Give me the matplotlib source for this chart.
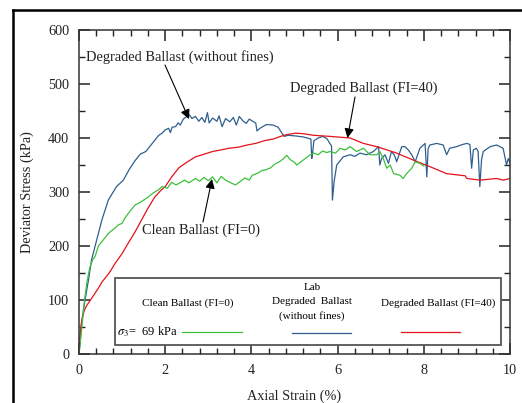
import matplotlib
matplotlib.use("Agg")
import matplotlib.pyplot as plt
from matplotlib.lines import Line2D
from matplotlib.patches import Rectangle

plt.rcParams['font.family'] = ['Liberation Serif', 'DejaVu Serif']
plt.rcParams['mathtext.fontset'] = 'stix'

# ---------------- data (10 values per row, x and y rows aligned) ----------------
blue_x = [0, 0.03, 0.06, 0.1, 0.14, 0.22, 0.29, 0.41, 0.53, 0.68,
          0.87, 1.03, 1.16, 1.3, 1.42, 1.55, 1.65, 1.75, 1.85, 1.93,
          2.0, 2.08, 2.12, 2.16, 2.24, 2.3, 2.35, 2.42, 2.5, 2.56,
          2.62, 2.7, 2.78, 2.85, 2.92, 2.98, 3.02, 3.1, 3.2, 3.25,
          3.32, 3.4, 3.5, 3.58, 3.65, 3.72, 3.8, 3.88, 3.95, 4.05,
          4.1, 4.13, 4.2, 4.35, 4.5, 4.62, 4.7, 4.76, 4.85, 5.0,
          5.2, 5.38, 5.4, 5.42, 5.45, 5.55, 5.65, 5.75, 5.82, 5.86,
          5.88, 5.92, 5.98, 6.13, 6.29, 6.4, 6.52, 6.67, 6.83, 6.95,
          6.98, 7.02, 7.1, 7.18, 7.25, 7.32, 7.37, 7.45, 7.49, 7.56,
          7.64, 7.72, 7.8, 7.91, 8.03, 8.07, 8.1, 8.14, 8.3, 8.45,
          8.53, 8.6, 8.76, 8.9, 9.0, 9.07, 9.11, 9.15, 9.22, 9.26,
          9.3, 9.34, 9.38, 9.54, 9.69, 9.84, 9.92, 9.96, 10.0]
blue_y = [0, 25, 57, 80, 100, 137, 174, 211, 248, 285,
          310, 322, 341, 358, 370, 375, 385, 395, 405, 409,
          415, 418, 410, 420, 421, 428, 424, 435, 440, 443,
          436, 440, 431, 438, 429, 447, 428, 437, 431, 441,
          421, 436, 430, 438, 424, 440, 432, 427, 435, 430,
          428, 413, 418, 425, 424, 420, 410, 403, 405, 404,
          402, 398, 362, 372, 395, 400, 403, 399, 390, 385,
          285, 320, 350, 365, 369, 366, 372, 369, 375, 384,
          350, 362, 369, 353, 375, 368, 356, 375, 384, 384,
          378, 369, 356, 381, 390, 328, 380, 387, 390, 387,
          369, 381, 384, 388, 390, 388, 344, 378, 381, 375,
          310, 360, 375, 384, 387, 381, 350, 362, 354]

green_x = [0, 0.04, 0.08, 0.12, 0.18, 0.25, 0.32, 0.37, 0.45, 0.53,
           0.6, 0.68, 0.75, 0.82, 0.91, 1.0, 1.05, 1.14, 1.22, 1.3,
           1.4, 1.5, 1.61, 1.7, 1.84, 1.93, 2.05, 2.15, 2.25, 2.32,
           2.45, 2.55, 2.7, 2.8, 2.9, 3.0, 3.1, 3.2, 3.3, 3.4,
           3.5, 3.63, 3.75, 3.85, 3.95, 4.02, 4.15, 4.25, 4.33, 4.45,
           4.55, 4.65, 4.75, 4.82, 4.9, 5.0, 5.05, 5.15, 5.25, 5.35,
           5.44, 5.55, 5.65, 5.75, 5.82, 5.95, 6.06, 6.18, 6.29, 6.44,
           6.6, 6.75, 6.91, 6.98, 7.06, 7.14, 7.22, 7.3, 7.45, 7.52,
           7.6, 7.72, 7.8, 7.91, 8.0]
green_y = [0, 30, 60, 95, 131, 160, 175, 180, 200, 208,
           215, 223, 228, 232, 239, 242, 250, 260, 268, 276,
           280, 285, 291, 297, 304, 310, 307, 318, 313, 316,
           322, 317, 325, 320, 327, 321, 328, 317, 329, 322,
           318, 313, 320, 326, 322, 331, 335, 340, 341, 345,
           352, 356, 362, 368, 360, 355, 350, 356, 362, 368,
           372, 369, 376, 373, 375, 372, 381, 378, 384, 375,
           381, 369, 369, 375, 362, 344, 350, 334, 331, 325,
           334, 344, 356, 353, 348]

red_x = [0, 0.02, 0.05, 0.08, 0.12, 0.18, 0.25, 0.35, 0.45, 0.53,
         0.62, 0.7, 0.84, 1.0, 1.14, 1.3, 1.45, 1.6, 1.76, 1.9,
         2.0, 2.15, 2.32, 2.5, 2.7, 2.9, 3.1, 3.3, 3.48, 3.7,
         3.9, 4.1, 4.3, 4.5, 4.64, 4.8, 5.03, 5.2, 5.44, 5.82,
         6.29, 6.6, 6.91, 7.37, 7.76, 8.14, 8.53, 8.96, 9.0, 9.3,
         9.69, 9.84, 10.0]
red_y = [0, 30, 55, 68, 80, 90, 98, 110, 122, 133,
         142, 150, 168, 186, 205, 226, 248, 270, 291, 303,
         310, 328, 345, 355, 365, 370, 375, 378, 381, 383,
         387, 390, 395, 398, 402, 406, 409, 408, 405, 403,
         400, 390, 384, 372, 359, 347, 334, 330, 325, 322,
         325, 322, 325]

x_ticks = [0, 2, 4, 6, 8, 10]
y_ticks = [0, 100, 200, 300, 400, 500, 600]

# ---------------- figure ----------------
fig = plt.figure(figsize=(5.22, 4.03), dpi=100)
ax = fig.add_axes([79/522, 1-354/403, (510-79)/522, (354-30)/403])

ax.plot(blue_x, blue_y, color='#2f5f8f', lw=0.9)
ax.plot(red_x, red_y, color='#e3121c', lw=0.9)
ax.plot(green_x, green_y, color='#3cc03c', lw=0.9)

ax.set_xlim(0, 10)
ax.set_ylim(0, 600)
ax.set_xticks(x_ticks)
ax.set_yticks(y_ticks)
ax.set_xticks([i * 0.4 for i in range(26)], minor=True)
ax.set_yticks([i * 50 for i in range(13)], minor=True)
ax.tick_params(which='both', direction='in', top=True, right=True, labelsize=10.3,
               color='#222222', labelcolor='#222222')
ax.tick_params(which='major', length=8, width=1.1, pad=7)
ax.tick_params(which='minor', length=4, width=1.0)
for s in ax.spines.values():
    s.set_color('#333333')
    s.set_linewidth(1.1)

ax.set_xlabel('Axial Strain (%)', fontsize=10.3, color='#222222', labelpad=9)
ax.set_ylabel('Deviator Stress (kPa)', fontsize=10.3, color='#222222', labelpad=10)

# annotations
def px(xp, yp):
    return ((xp - 79) / 43.1, (354 - yp) / 0.54)

arrow = dict(arrowstyle='-|>', color='black', lw=0.8, mutation_scale=14,
             shrinkA=0, shrinkB=0)
ax.text(*px(86, 57), 'Degraded Ballast (without fines)', fontsize=10.4, ha='left',
        va='center', color='#222222')
ax.annotate('', xy=px(189, 119), xytext=px(165, 65), arrowprops=arrow)

ax.text(*px(364, 88), 'Degraded Ballast (FI=40)', fontsize=10.4, ha='center',
        va='center', color='#222222')
ax.annotate('', xy=px(347.5, 138), xytext=px(355, 97), arrowprops=arrow)

ax.text(*px(201, 230), 'Clean Ballast (FI=0)', fontsize=10.4, ha='center',
        va='center', color='#222222')
ax.annotate('', xy=px(212, 179), xytext=px(203, 222), arrowprops=arrow)

# legend box
x0, y0 = px(115, 345)
x1, y1 = px(501, 277.7)
ax.add_patch(Rectangle((x0, y0), x1 - x0, y1 - y0, facecolor='white',
                       edgecolor='#555555', lw=1.3, zorder=5))
lfs = 8
ax.text(*px(188, 303), 'Clean Ballast (FI=0)', fontsize=lfs, ha='center', va='center', zorder=6)
ax.text(*px(312, 288), 'Lab', fontsize=lfs, ha='center', va='center', zorder=6)
ax.text(*px(312, 302), 'Degraded  Ballast', fontsize=lfs, ha='center', va='center', zorder=6)
ax.text(*px(312, 316), '(without fines)', fontsize=lfs, ha='center', va='center', zorder=6)
ax.text(*px(438, 303), 'Degraded Ballast (FI=40)', fontsize=lfs, ha='center', va='center', zorder=6)
ax.text(*px(117, 332), r'$\sigma_3$=  69 kPa', fontsize=9, ha='left', va='center', zorder=6)

for (a, b, yy, c) in [(182, 242, 332, '#3cc03c'), (292, 351, 333, '#2f5f8f'),
                      (401, 460, 332, '#e3121c')]:
    pa, pb = px(a, yy), px(b, yy)
    ax.plot([pa[0], pb[0]], [pa[1], pb[1]], color=c, lw=0.9, zorder=6)

# figure frame lines
fig.add_artist(Line2D([13/522, 1.0], [1-10/403, 1-10/403], color='black', lw=1.8,
                      transform=fig.transFigure))
fig.add_artist(Line2D([13/522, 13/522], [0.0, 1-10/403], color='black', lw=1.8,
                      transform=fig.transFigure))

fig.savefig('out.png', dpi=100)
